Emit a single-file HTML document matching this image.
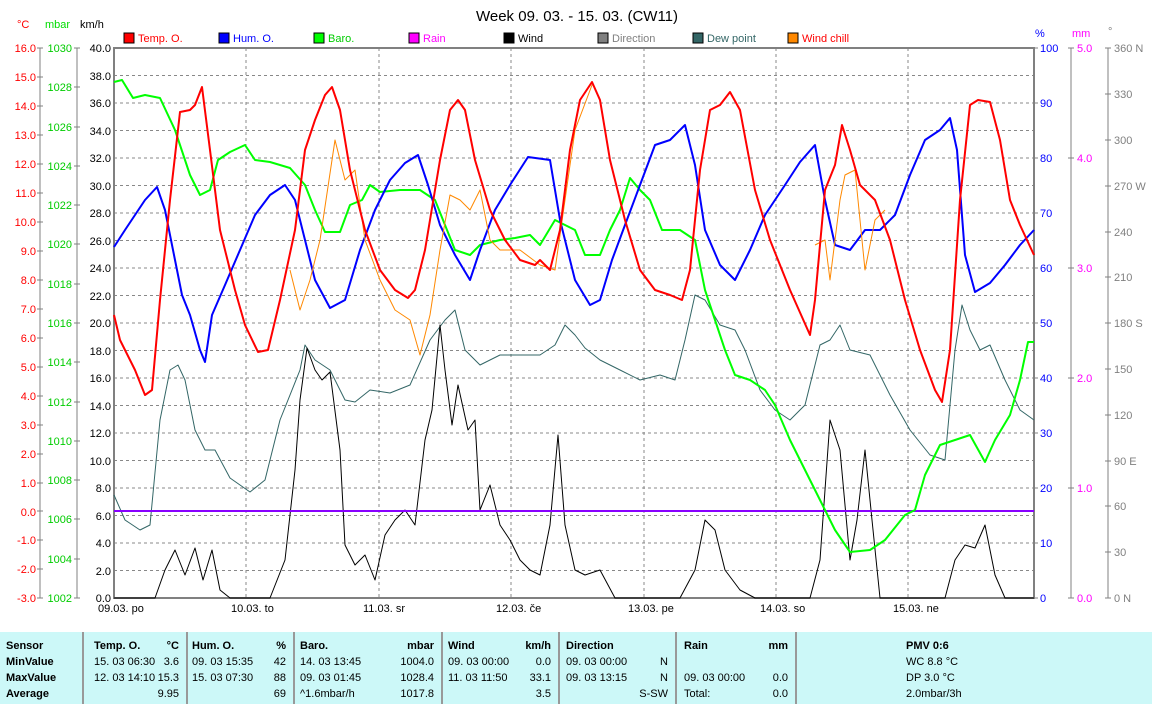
<!DOCTYPE html>
<html><head><meta charset="utf-8"><style>
body{margin:0;width:1152px;height:704px;background:#fff;overflow:hidden;font-family:"Liberation Sans",sans-serif;position:relative}
svg{position:absolute;left:0;top:0}
#tbl{position:absolute;left:0;top:632px;width:1152px;height:72px;background:#ccf8f8;font-size:11px}
.c{position:absolute;top:0;height:72px;border-left:2px solid #999}
.r{position:absolute;white-space:nowrap}
.b{font-weight:bold}
</style></head><body>
<svg width="1152" height="632" font-family="Liberation Sans" font-size="11">
<text x="577" y="21" font-size="15" text-anchor="middle">Week 09. 03.  - 15. 03.  (CW11)</text>
<g stroke="#888" stroke-dasharray="3,3" stroke-width="1">
<line x1="114" x2="1034" y1="75.5" y2="75.5"/><line x1="114" x2="1034" y1="103" y2="103"/><line x1="114" x2="1034" y1="130.5" y2="130.5"/><line x1="114" x2="1034" y1="158" y2="158"/><line x1="114" x2="1034" y1="185.5" y2="185.5"/><line x1="114" x2="1034" y1="213" y2="213"/><line x1="114" x2="1034" y1="240.5" y2="240.5"/><line x1="114" x2="1034" y1="268" y2="268"/><line x1="114" x2="1034" y1="295.5" y2="295.5"/><line x1="114" x2="1034" y1="323" y2="323"/><line x1="114" x2="1034" y1="350.5" y2="350.5"/><line x1="114" x2="1034" y1="378" y2="378"/><line x1="114" x2="1034" y1="405.5" y2="405.5"/><line x1="114" x2="1034" y1="433" y2="433"/><line x1="114" x2="1034" y1="460.5" y2="460.5"/><line x1="114" x2="1034" y1="488" y2="488"/><line x1="114" x2="1034" y1="515.5" y2="515.5"/><line x1="114" x2="1034" y1="543" y2="543"/><line x1="114" x2="1034" y1="570.5" y2="570.5"/>
<line x1="246" x2="246" y1="48" y2="598"/><line x1="379" x2="379" y1="48" y2="598"/><line x1="511" x2="511" y1="48" y2="598"/><line x1="644" x2="644" y1="48" y2="598"/><line x1="776" x2="776" y1="48" y2="598"/><line x1="908" x2="908" y1="48" y2="598"/>
</g>
<rect x="114" y="48" width="920" height="550" fill="none" stroke="#808080" stroke-width="2"/>
<g stroke="#808080"><line x1="40" x2="40" y1="48" y2="598"/><line x1="77" x2="77" y1="48" y2="598"/><line x1="1071" x2="1071" y1="48" y2="598"/><line x1="1108" x2="1108" y1="48" y2="598"/>
<path d="M37 48h6M37 77h6M37 106h6M37 135h6M37 164h6M37 193h6M37 222h6M37 251h6M37 280h6M37 309h6M37 338h6M37 367h6M37 396h6M37 425h6M37 454h6M37 483h6M37 511h6M37 540h6M37 569h6M37 598h6"/>
<path d="M74 48h6M74 87h6M74 127h6M74 166h6M74 205h6M74 244h6M74 284h6M74 323h6M74 362h6M74 402h6M74 441h6M74 480h6M74 519h6M74 559h6M74 598h6"/>
<path d="M1034 48h4M1034 103h4M1034 158h4M1034 213h4M1034 268h4M1034 323h4M1034 378h4M1034 433h4M1034 488h4M1034 543h4M1034 598h4"/>
<path d="M1068 48h6M1068 158h6M1068 268h6M1068 378h6M1068 488h6M1068 598h6"/>
<path d="M1105 48h6M1105 94h6M1105 140h6M1105 186h6M1105 232h6M1105 277h6M1105 323h6M1105 369h6M1105 415h6M1105 461h6M1105 506h6M1105 552h6M1105 598h6"/></g>
<g fill="#f00" text-anchor="end"><text x="17" y="28" text-anchor="start">°C</text>
<text x="36" y="52">16.0</text><text x="36" y="81">15.0</text><text x="36" y="110">14.0</text><text x="36" y="139">13.0</text><text x="36" y="168">12.0</text><text x="36" y="197">11.0</text><text x="36" y="226">10.0</text><text x="36" y="255">9.0</text><text x="36" y="284">8.0</text><text x="36" y="313">7.0</text><text x="36" y="342">6.0</text><text x="36" y="371">5.0</text><text x="36" y="400">4.0</text><text x="36" y="429">3.0</text><text x="36" y="458">2.0</text><text x="36" y="487">1.0</text><text x="36" y="516">0.0</text><text x="36" y="544">-1.0</text><text x="36" y="573">-2.0</text><text x="36" y="602">-3.0</text></g>
<g fill="#0c0" text-anchor="end"><text x="45" y="28" text-anchor="start" fill="#0d0">mbar</text>
<text x="72" y="52">1030</text><text x="72" y="91">1028</text><text x="72" y="131">1026</text><text x="72" y="170">1024</text><text x="72" y="209">1022</text><text x="72" y="248">1020</text><text x="72" y="288">1018</text><text x="72" y="327">1016</text><text x="72" y="366">1014</text><text x="72" y="406">1012</text><text x="72" y="445">1010</text><text x="72" y="484">1008</text><text x="72" y="523">1006</text><text x="72" y="563">1004</text><text x="72" y="602">1002</text></g>
<g fill="#000" text-anchor="end"><text x="80" y="28" text-anchor="start">km/h</text>
<text x="111" y="52">40.0</text><text x="111" y="80">38.0</text><text x="111" y="107">36.0</text><text x="111" y="135">34.0</text><text x="111" y="162">32.0</text><text x="111" y="190">30.0</text><text x="111" y="217">28.0</text><text x="111" y="245">26.0</text><text x="111" y="272">24.0</text><text x="111" y="300">22.0</text><text x="111" y="327">20.0</text><text x="111" y="355">18.0</text><text x="111" y="382">16.0</text><text x="111" y="410">14.0</text><text x="111" y="437">12.0</text><text x="111" y="465">10.0</text><text x="111" y="492">8.0</text><text x="111" y="520">6.0</text><text x="111" y="547">4.0</text><text x="111" y="575">2.0</text><text x="111" y="602">0.0</text></g>
<g fill="#00f"><text x="1035" y="37">%</text>
<text x="1040" y="52">100</text><text x="1040" y="107">90</text><text x="1040" y="162">80</text><text x="1040" y="217">70</text><text x="1040" y="272">60</text><text x="1040" y="327">50</text><text x="1040" y="382">40</text><text x="1040" y="437">30</text><text x="1040" y="492">20</text><text x="1040" y="547">10</text><text x="1040" y="602">0</text></g>
<g fill="#f0f"><text x="1072" y="37">mm</text><text x="1077" y="52">5.0</text><text x="1077" y="162">4.0</text><text x="1077" y="272">3.0</text><text x="1077" y="382">2.0</text><text x="1077" y="492">1.0</text><text x="1077" y="602">0.0</text></g>
<g fill="#808080"><text x="1108" y="35">°</text><text x="1114" y="52">360 N</text><text x="1114" y="98">330</text><text x="1114" y="144">300</text><text x="1114" y="190">270 W</text><text x="1114" y="236">240</text><text x="1114" y="281">210</text><text x="1114" y="327">180 S</text><text x="1114" y="373">150</text><text x="1114" y="419">120</text><text x="1114" y="465">90  E</text><text x="1114" y="510">60</text><text x="1114" y="556">30</text><text x="1114" y="602">0  N</text></g>
<g fill="#000"><text x="98" y="612">09.03.  po</text><text x="231" y="612">10.03.  to</text><text x="363" y="612">11.03.  sr</text><text x="496" y="612">12.03.  če</text><text x="628" y="612">13.03.  pe</text><text x="760" y="612">14.03.  so</text><text x="893" y="612">15.03.  ne</text></g>
<g font-size="11"><rect x="124" y="33" width="10" height="10" fill="#f00" stroke="#000"/><text x="138" y="42" fill="#f00">Temp. O.</text>
<rect x="219" y="33" width="10" height="10" fill="#00f" stroke="#000"/><text x="233" y="42" fill="#00f">Hum. O.</text>
<rect x="314" y="33" width="10" height="10" fill="#0f0" stroke="#000"/><text x="328" y="42" fill="#0c0">Baro.</text>
<rect x="409" y="33" width="10" height="10" fill="#f0f" stroke="#000"/><text x="423" y="42" fill="#f0f">Rain</text>
<rect x="504" y="33" width="10" height="10" fill="#000" stroke="#000"/><text x="518" y="42" fill="#000">Wind</text>
<rect x="598" y="33" width="10" height="10" fill="#808080" stroke="#000"/><text x="612" y="42" fill="#808080">Direction</text>
<rect x="693" y="33" width="10" height="10" fill="#366" stroke="#000"/><text x="707" y="42" fill="#366">Dew point</text>
<rect x="788" y="33" width="10" height="10" fill="#f80" stroke="#000"/><text x="802" y="42" fill="#f00">Wind chill</text></g>
<g fill="none" stroke-linejoin="round">
<polyline stroke="#366" stroke-width="1" points="114,495 125,520 140,530 150,525 160,420 170,370 178,365 185,380 195,430 205,450 215,450 230,478 250,492 265,480 280,420 300,370 305,345 315,360 330,370 345,400 355,402 370,390 390,393 410,385 430,340 445,320 455,310 465,350 480,365 500,355 520,355 540,355 555,345 565,325 575,335 585,348 600,360 620,370 640,380 660,375 675,380 685,340 695,295 705,300 720,325 735,330 745,350 760,390 775,410 790,420 805,405 820,345 830,340 840,325 850,350 870,355 890,395 910,430 930,455 945,460 955,350 962,305 970,330 980,350 990,345 1005,380 1020,410 1034,420"/>
<polyline stroke="#000" stroke-width="1" points="114,598 155,598 165,570 175,550 185,575 195,548 203,580 212,550 220,590 230,598 270,598 285,560 295,470 300,400 307,348 315,370 322,380 330,372 340,450 345,545 355,565 365,555 375,580 385,535 395,520 405,510 415,525 425,440 432,410 440,325 445,370 452,425 458,385 468,430 475,420 480,510 490,485 500,525 510,540 520,560 530,570 540,575 550,525 558,435 565,525 575,570 585,575 600,570 615,598 680,598 695,570 705,520 715,530 725,570 740,590 755,598 810,598 820,560 830,420 840,450 850,560 857,520 865,450 872,520 880,598 945,598 955,560 965,545 975,548 985,525 995,575 1005,598 1034,598"/>
<line x1="114" x2="1034" y1="511" y2="511" stroke="#80f" stroke-width="2"/>
<polyline stroke="#0f0" stroke-width="2" points="114,82 122,80 133,98 145,95 160,98 175,130 190,175 200,195 210,190 218,160 230,152 245,145 255,160 270,162 290,168 305,185 315,210 325,232 340,232 350,205 362,200 370,185 380,192 400,190 420,190 435,200 445,225 455,250 470,255 480,245 500,240 515,238 530,235 540,245 555,220 565,225 575,230 585,255 600,255 610,230 620,210 630,178 640,190 650,200 662,230 680,230 695,240 705,290 715,320 725,350 735,375 750,380 765,390 775,405 790,440 805,470 820,500 835,530 850,552 870,550 885,540 905,515 915,510 925,475 940,445 955,440 970,435 985,462 995,440 1010,415 1020,380 1028,342 1034,342"/>
<polyline stroke="#00f" stroke-width="2" points="114,247 125,230 135,215 145,200 157,187 165,210 175,260 182,295 190,315 200,350 205,362 212,315 225,285 240,250 255,215 270,195 285,185 295,200 305,240 315,280 330,308 345,300 360,250 375,210 390,180 405,163 418,155 428,185 440,225 455,255 470,280 480,250 495,210 510,185 528,157 550,160 560,220 575,280 590,305 600,300 612,260 625,225 640,185 655,145 670,140 685,125 695,165 705,230 720,265 735,280 750,250 765,215 785,185 800,162 815,145 825,200 835,245 850,250 865,230 880,230 895,215 910,175 925,140 940,130 950,118 957,150 965,255 975,292 990,283 1005,265 1020,245 1034,230"/>
<polyline stroke="#f80" stroke-width="1" points="290,270 300,310 310,280 320,240 335,140 345,180 355,170 365,240 380,280 395,310 410,320 420,355 430,315 440,250 450,195 460,200 470,210 480,190 490,240 500,250 520,250 540,265 555,270 565,200 575,130 592,85"/>
<polyline stroke="#f80" stroke-width="1" points="815,245 825,240 830,280 840,200 845,175 855,170 865,270 875,220 885,210"/>
<polyline stroke="#f00" stroke-width="2" points="114,315 120,340 135,370 145,395 152,390 160,300 170,200 180,112 190,110 195,105 202,87 210,150 220,230 235,290 245,325 258,352 268,350 280,300 295,230 305,150 315,120 325,95 332,87 340,110 350,170 365,230 380,270 395,290 408,298 415,290 425,250 440,160 450,110 458,100 465,110 475,160 490,210 505,240 520,260 535,265 540,260 550,270 560,230 570,150 580,100 592,82 600,100 610,160 625,220 640,270 655,290 670,295 682,300 690,270 700,170 710,110 720,105 730,92 740,110 755,190 770,240 790,290 810,335 815,300 825,190 835,165 842,125 850,150 860,185 875,200 890,240 905,300 920,350 935,390 942,402 950,350 960,200 970,105 978,100 990,102 1000,140 1010,200 1020,225 1034,255"/>
</g>
</svg>
<div id="tbl">
<div class="c" style="left:82px"></div><div class="c" style="left:186px"></div><div class="c" style="left:293px"></div><div class="c" style="left:441px"></div><div class="c" style="left:558px"></div><div class="c" style="left:675px"></div><div class="c" style="left:795px"></div>
<div class="r b" style="left:6px;top:8px">Sensor</div><div class="r b" style="left:6px;top:24px">MinValue</div><div class="r b" style="left:6px;top:40px">MaxValue</div><div class="r b" style="left:6px;top:56px">Average</div>
<div class="r b" style="left:94px;top:8px">Temp. O.</div><div class="r b" style="right:973px;top:8px">°C</div>
<div class="r" style="left:94px;top:24px">15. 03  06:30</div><div class="r" style="right:973px;top:24px">3.6</div>
<div class="r" style="left:94px;top:40px">12. 03  14:10</div><div class="r" style="right:973px;top:40px">15.3</div>
<div class="r" style="right:973px;top:56px">9.95</div>
<div class="r b" style="left:192px;top:8px">Hum. O.</div><div class="r b" style="right:866px;top:8px">%</div>
<div class="r" style="left:192px;top:24px">09. 03  15:35</div><div class="r" style="right:866px;top:24px">42</div>
<div class="r" style="left:192px;top:40px">15. 03  07:30</div><div class="r" style="right:866px;top:40px">88</div>
<div class="r" style="right:866px;top:56px">69</div>
<div class="r b" style="left:300px;top:8px">Baro.</div><div class="r b" style="right:718px;top:8px">mbar</div>
<div class="r" style="left:300px;top:24px">14. 03  13:45</div><div class="r" style="right:718px;top:24px">1004.0</div>
<div class="r" style="left:300px;top:40px">09. 03  01:45</div><div class="r" style="right:718px;top:40px">1028.4</div>
<div class="r" style="left:300px;top:56px">^1.6mbar/h</div><div class="r" style="right:718px;top:56px">1017.8</div>
<div class="r b" style="left:448px;top:8px">Wind</div><div class="r b" style="right:601px;top:8px">km/h</div>
<div class="r" style="left:448px;top:24px">09. 03  00:00</div><div class="r" style="right:601px;top:24px">0.0</div>
<div class="r" style="left:448px;top:40px">11. 03  11:50</div><div class="r" style="right:601px;top:40px">33.1</div>
<div class="r" style="right:601px;top:56px">3.5</div>
<div class="r b" style="left:566px;top:8px">Direction</div>
<div class="r" style="left:566px;top:24px">09. 03  00:00</div><div class="r" style="right:484px;top:24px">N</div>
<div class="r" style="left:566px;top:40px">09. 03  13:15</div><div class="r" style="right:484px;top:40px">N</div>
<div class="r" style="right:484px;top:56px">S-SW</div>
<div class="r b" style="left:684px;top:8px">Rain</div><div class="r b" style="right:364px;top:8px">mm</div>
<div class="r" style="left:684px;top:40px">09. 03  00:00</div><div class="r" style="right:364px;top:40px">0.0</div>
<div class="r" style="left:684px;top:56px">Total:</div><div class="r" style="right:364px;top:56px">0.0</div>
<div class="r b" style="left:906px;top:8px">PMV 0:6</div>
<div class="r" style="left:906px;top:24px">WC 8.8 °C</div>
<div class="r" style="left:906px;top:40px">DP 3.0 °C</div>
<div class="r" style="left:906px;top:56px">2.0mbar/3h</div>
</div>
</body></html>
